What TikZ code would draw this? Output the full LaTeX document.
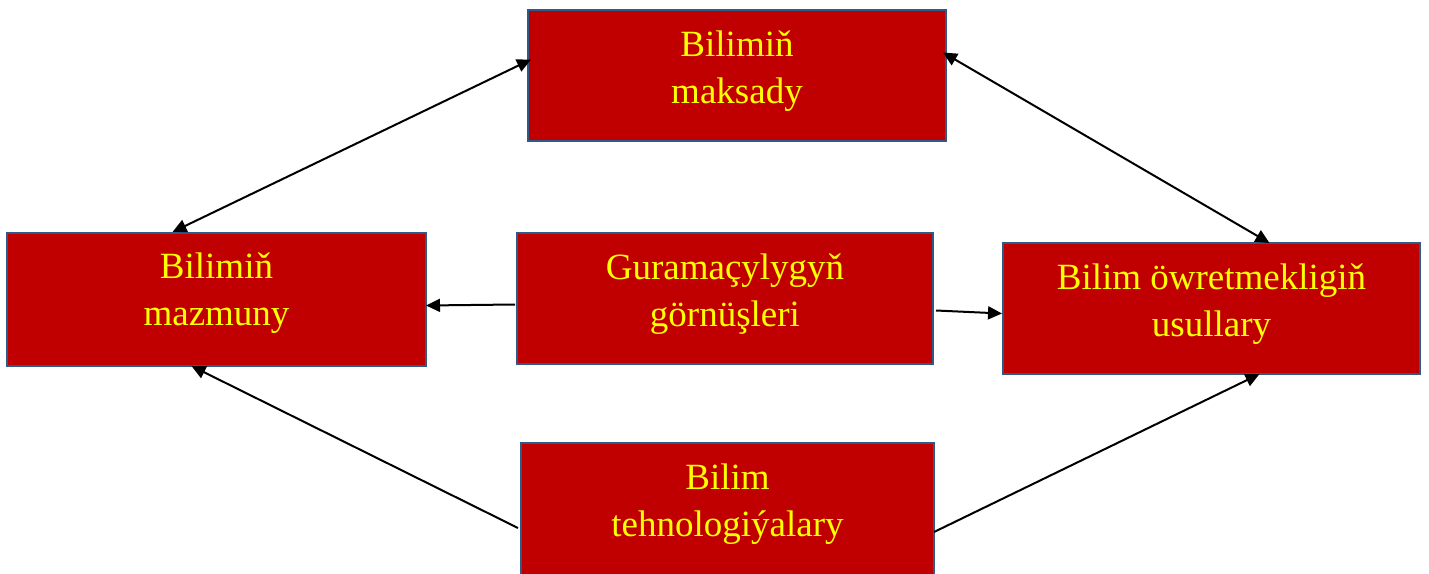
\documentclass[tikz,border=0pt]{standalone}
\usepackage{fontspec}
\setmainfont{Liberation Serif}
\usetikzlibrary{arrows.meta,calc}
\definecolor{boxred}{HTML}{C00000}
\definecolor{boxline}{HTML}{2F5A87}
\definecolor{txtyellow}{HTML}{FFFF00}
\tikzset{
  boxnode/.style={draw=boxline, line width=2pt, fill=boxred, rectangle, inner sep=0pt, outer sep=0pt},
  txtnode/.style={text=txtyellow, align=center, inner sep=0pt, font=\fontsize{37}{47}\selectfont},
  conn/.style={line width=2pt, -{Triangle[length=14pt,width=13pt]}},
  dconn/.style={line width=2pt, {Triangle[length=14pt,width=13pt]}-{Triangle[length=14pt,width=13pt]}}
}
\begin{document}
\begin{tikzpicture}[x=1pt,y=-1pt]
\useasboundingbox[fill=white] (0,0) rectangle (1429,573);
\node[boxnode, minimum width=418pt, minimum height=131pt] (top) at (737,75.5) {};
\node[boxnode, minimum width=419pt, minimum height=133pt] (left) at (216.5,299.5) {};
\node[boxnode, minimum width=416pt, minimum height=131pt] (mid) at (725,298.5) {};
\node[boxnode, minimum width=417pt, minimum height=131pt] (right) at (1211.5,308.5) {};
\node[boxnode, minimum width=413pt, minimum height=136pt] (bot) at (727.5,511) {};
\node[txtnode] (toptxt) at ($(top.center)+(0,-4.5)$) {Bilimiň\\maksady};
\node[txtnode] (lefttxt) at ($(left.center)+(0,-6)$) {Bilimiň\\mazmuny};
\node[txtnode] (midtxt) at ($(mid.center)+(0,-4.5)$) {Guramaçylygyň\\görnüşleri};
\node[txtnode] (righttxt) at ($(right.center)+(0,-4.5)$) {Bilim öwretmekligiň\\usullary};
\node[txtnode] (bottxt) at ($(bot.center)+(0,-6.5)$) {Bilim\\tehnologiýalary};
% connector end points
\coordinate (tl) at ($(top.west)+(3,-16)$);
\coordinate (tr) at ($(top.east)+(-3,-23)$);
\coordinate (lt) at ($(left.north)+(-44,-1)$);
\coordinate (rt) at ($(right.north)+(58,0)$);
\coordinate (ml) at ($(mid.west)+(-2,6)$);
\coordinate (lr) at ($(left.east)+(0,6)$);
\coordinate (mr) at ($(mid.east)+(3,12)$);
\coordinate (rl) at ($(right.west)+(-1,5)$);
\coordinate (bl) at ($(bot.west)+(-3,17)$);
\coordinate (lb) at ($(left.south)+(-25,0)$);
\coordinate (br) at ($(bot.east)+(0,21)$);
\coordinate (rb) at ($(right.south)+(48,0)$);
\draw[dconn] (lt) -- (tl);
\draw[dconn] (tr) -- (rt);
\draw[conn] (ml) -- (lr);
\draw[conn] (mr) -- (rl);
\draw[conn] (bl) -- (lb);
\draw[conn] (br) -- (rb);
\end{tikzpicture}
\end{document}
